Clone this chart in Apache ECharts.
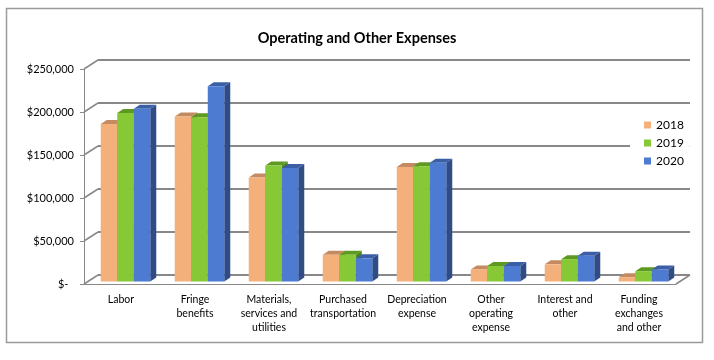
<!DOCTYPE html>
<html>
<head>
<meta charset="utf-8">
<script src="https://cdn.jsdelivr.net/npm/echarts@6/dist/echarts.min.js"></script>
<style>
html,body{margin:0;padding:0;background:#fff;}
#c{width:714px;height:360px;}
</style>
</head>
<body>
<div id="c"></div>
<script>
// ---- data ----
const categories = [
  'Labor',
  'Fringe\nbenefits',
  'Materials,\nservices and\nutilities',
  'Purchased\ntransportation',
  'Depreciation\nexpense',
  'Other\noperating\nexpense',
  'Interest and\nother',
  'Funding\nexchanges\nand other'
];
const years = ['2018', '2019', '2020'];
const values2018 = [183000, 192000, 121000, 31000, 133000, 14000, 20000, 5000];
const values2019 = [196000, 191000, 135000, 31000, 134000, 18000, 26000, 12000];
const values2020 = [201000, 227000, 132000, 27000, 138000, 18000, 30000, 14000];
const yTicks = [0, 50000, 100000, 150000, 200000, 250000];

// ---- styling ----
const FONT = 'Lato';
const faceColors = ['#F4B07A', '#86C836', '#4E7BD2'];
const topColors  = ['#C48B62', '#5E9A22', '#3B5FA6'];
const sideColors = ['#A9754F', '#4F8419', '#2F4C86'];
const WALL_DX = 14, WALL_DY = 9;     // back wall offset
const SHIFT_X = 4.5, SHIFT_Y = -2.5; // bar placement in depth
const BAR_DX = 6, BAR_DY = 4;        // bar depth
const BAR_FRAC = 0.223;

const GRID = {left: 84, top: 69, width: 592, height: 215};

function fmt(v) {
  if (v === 0) return '$-  ';
  return '$' + String(v).replace(/\B(?=(\d{3})+(?!\d))/g, ',');
}

function barRenderer(k) {
  return function (params, api) {
    const idx = api.value(0), v = api.value(1);
    const band = api.size([1, 0])[0];
    const bw = band * BAR_FRAC;
    const base = api.coord([idx, 0]);
    const top = api.coord([idx, v]);
    const x = base[0] - 1.5 * bw + k * bw + SHIFT_X;
    const yb = base[1] + SHIFT_Y, yt = top[1] + SHIFT_Y;
    return {
      type: 'group',
      children: [
        {type: 'polygon', shape: {points: [[x + bw, yt], [x + bw + BAR_DX, yt - BAR_DY], [x + bw + BAR_DX, yb - BAR_DY], [x + bw, yb]]},
         style: {fill: sideColors[k]}},
        {type: 'polygon', shape: {points: [[x, yt], [x + BAR_DX, yt - BAR_DY], [x + bw + BAR_DX, yt - BAR_DY], [x + bw, yt]]},
         style: {fill: topColors[k]}},
        {type: 'rect', shape: {x: x, y: yt, width: bw, height: yb - yt},
         style: {fill: faceColors[k]}}
      ]
    };
  };
}

const seriesValues = [values2018, values2019, values2020];
const barSeries = years.map((y, k) => ({
  name: y,
  type: 'custom',
  xAxisIndex: 0, yAxisIndex: 0,
  renderItem: barRenderer(k),
  itemStyle: {color: faceColors[k]},
  data: seriesValues[k].map((v, i) => [i, v]),
  z: 3
}));

// wall diagonals and floor right edge
const frameSeries = {
  name: 'frame',
  type: 'custom',
  xAxisIndex: 0, yAxisIndex: 0,
  silent: true,
  renderItem: function (params, api) {
    const v = api.value(1);
    const band = api.size([1, 0])[0];
    const p = api.coord([0, v]);
    const x0 = p[0] - band / 2;
    const children = [
      {type: 'line', shape: {x1: x0, y1: p[1], x2: x0 + WALL_DX, y2: p[1] - WALL_DY},
       style: {stroke: '#888', lineWidth: 1.5}}
    ];
    if (v === 0) {
      const q = api.coord([categories.length - 1, 0]);
      const x1 = q[0] + band / 2;
      children.push({type: 'line', shape: {x1: x1, y1: q[1], x2: x1 + WALL_DX, y2: q[1] - WALL_DY},
        style: {stroke: '#888', lineWidth: 1.5}});
    }
    return {type: 'group', children: children};
  },
  data: yTicks.map(v => [0, v]),
  z: 1
};

const chart = echarts.init(document.getElementById('c'), null, {renderer: 'canvas'});
chart.setOption({
  backgroundColor: '#fff',
  animation: false,
  title: {
    text: 'Operating and Other Expenses',
    left: 'center', top: 31, padding: 0,
    textStyle: {fontFamily: FONT, fontSize: 14.5, fontWeight: 'bold', color: '#000'}
  },
  legend: {
    data: years,
    orient: 'vertical',
    left: 630, top: 113,
    padding: [6, 6, 6, 14],
    itemGap: 6,
    itemWidth: 7, itemHeight: 7,
    icon: 'rect',
    backgroundColor: '#fff',
    textStyle: {fontFamily: FONT, fontSize: 12, color: '#000'},
    z: 10
  },
  grid: [
    Object.assign({}, GRID),
    {left: GRID.left + WALL_DX, top: GRID.top - WALL_DY, width: GRID.width, height: GRID.height}
  ],
  xAxis: [
    {
      type: 'category', gridIndex: 0, data: categories,
      axisLine: {lineStyle: {color: '#888', width: 1}},
      axisTick: {length: 3, lineStyle: {color: '#888'}},
      axisLabel: {fontFamily: FONT, fontSize: 10.5, color: '#000', lineHeight: 14, margin: 9, interval: 0}
    },
    {
      type: 'category', gridIndex: 1, data: categories, show: false
    }
  ],
  yAxis: [
    {
      type: 'value', gridIndex: 0, min: 0, max: 250000, interval: 50000,
      axisLine: {show: true, lineStyle: {color: '#888', width: 1}},
      axisTick: {show: true, length: 4, lineStyle: {color: '#888'}},
      splitLine: {show: false},
      axisLabel: {fontFamily: FONT, fontSize: 11, color: '#000', margin: 10, formatter: fmt}
    },
    {
      type: 'value', gridIndex: 1, min: 0, max: 250000, interval: 50000,
      axisLine: {show: false}, axisTick: {show: false}, axisLabel: {show: false},
      splitLine: {show: true, lineStyle: {color: '#888', width: 2}}
    }
  ],
  graphic: [
    {type: 'rect', shape: {x: 6.5, y: 8.5, width: 696, height: 334},
     style: {fill: 'none', stroke: '#9a9a9a', lineWidth: 1.5}, z: 0, silent: true}
  ],
  series: [frameSeries].concat(barSeries)
});
</script>
</body>
</html>
